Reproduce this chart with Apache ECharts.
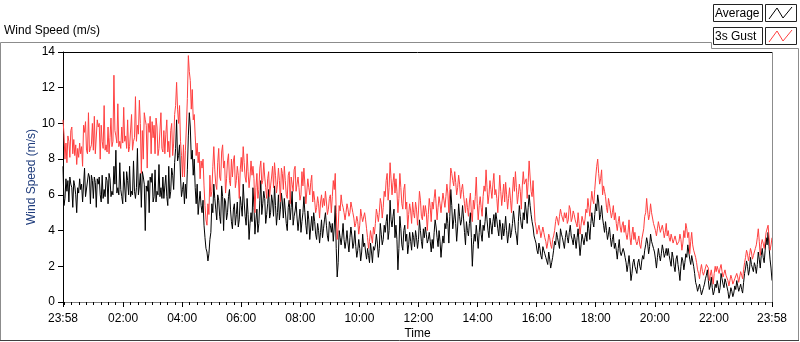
<!DOCTYPE html>
<html><head><meta charset="utf-8">
<script src="https://cdn.jsdelivr.net/npm/echarts@6/dist/echarts.min.js"></script>
<style>html,body{margin:0;padding:0;background:#fff}#c{width:800px;height:342px}</style>
</head><body><div id="c"></div>
<script>
// x axis: minutes after 23:58 (start of the 24 h window)
const xTickMinutes = [0, 122, 242, 362, 482, 602, 722, 842, 962, 1082, 1202, 1322, 1440];
const xTickLabels = ['23:58', '02:00', '04:00', '06:00', '08:00', '10:00', '12:00', '14:00', '16:00', '18:00', '20:00', '22:00', '23:58'];
const yTicks = [0, 2, 4, 6, 8, 10, 12, 14];
const seriesNames = ['Average', '3s Gust'];

// samples about every 2 minutes over the day
const average = [
7.6,5.4,5.8,6.9,6.2,6.8,5.6,7.0,6.6,6.4,5.3,6.8,6.5,6.0,5.0,6.4,6.1,6.9,6.3,6.6,5.6,5.7,7.5,5.9,6.0,5.8,7.2,7.0,5.5,7.1,6.8,5.8,7.0,6.7,5.3,6.9,6.6,7.0,6.0,5.6,7.1,5.8,6.3,5.9,7.0,6.8,5.5,7.2,6.9,5.9,6.2,6.0,7.6,6.6,8.5,6.1,6.4,6.0,7.8,6.3,5.9,5.5,7.3,7.4,5.6,7.3,6.8,6.0,7.6,5.9,6.2,6.0,7.9,6.2,5.8,6.4,8.6,6.0,6.5,7.2,5.3,7.3,7.0,6.6,4.0,6.5,6.2,6.8,5.0,7.0,6.7,7.2,5.6,5.9,7.4,5.6,6.2,6.0,7.7,5.9,6.4,5.8,7.0,5.8,
6.5,7.1,5.9,5.4,7.6,5.8,6.2,7.5,7.1,6.3,7.8,8.6,10.2,7.9,8.2,8.8,7.0,5.9,6.3,6.7,5.5,6.6,5.8,7.4,9.3,10.6,9.8,8.0,8.5,7.1,8.0,6.4,5.5,6.6,4.9,5.6,6.2,5.4,5.0,5.7,4.3,3.6,3.0,2.8,2.3,2.7,3.5,3.9,5.5,5.0,6.6,5.8,5.2,4.6,6.0,5.7,4.8,4.4,6.5,5.9,4.0,5.8,5.6,4.6,5.0,5.9,6.3,5.2,4.5,4.1,5.2,5.5,4.3,4.9,5.6,4.2,4.6,5.9,5.4,4.8,6.6,5.6,4.8,4.3,5.8,4.9,3.5,4.4,5.0,4.5,6.4,5.3,3.8,4.6,5.2,3.9,4.4,5.7,6.8,4.9,5.5,6.2,
5.8,4.4,4.9,5.5,6.3,4.7,5.0,6.0,5.6,4.8,6.5,5.4,4.3,5.0,6.0,4.6,5.2,6.1,5.6,4.7,5.8,5.1,4.4,4.0,5.3,5.7,4.6,5.3,6.2,4.3,4.8,5.1,5.6,4.7,4.0,4.6,5.2,3.9,4.5,5.0,5.9,5.0,4.3,3.8,5.1,4.6,3.5,4.2,4.8,4.0,5.0,4.5,3.8,3.5,4.4,4.0,3.3,3.9,4.6,3.6,4.1,4.6,5.0,4.3,3.7,3.4,4.5,4.3,3.9,4.4,3.4,4.2,5.4,3.0,1.4,2.2,4.0,3.6,3.2,3.7,4.4,3.5,3.0,3.4,4.0,3.3,2.8,3.6,4.2,3.7,3.0,3.3,4.0,3.1,2.5,2.9,3.5,3.0,2.3,2.8,3.8,3.1,3.3,2.8,
2.4,3.0,2.6,2.2,3.3,2.8,2.2,3.1,2.9,3.2,3.8,3.3,2.5,3.0,4.4,3.8,3.2,3.5,4.3,3.9,4.5,4.9,3.5,4.0,5.7,4.6,4.2,4.8,5.2,3.6,4.3,3.5,1.8,3.0,4.8,4.1,3.2,2.9,4.0,4.3,3.4,3.8,2.7,3.2,3.9,3.4,2.9,3.9,3.6,3.1,4.0,3.6,3.0,3.5,4.6,4.0,3.4,3.0,4.1,3.6,4.2,3.8,3.3,3.5,3.9,3.4,2.8,3.5,3.0,3.9,4.6,4.2,3.6,3.1,4.0,3.4,2.5,3.2,3.7,3.3,4.4,4.1,5.0,4.4,3.3,4.8,6.3,5.4,4.1,4.6,5.2,4.4,3.4,4.2,5.5,4.8,4.3,4.6,5.4,4.7,3.9,3.2,
4.5,4.0,3.7,4.4,5.0,3.6,2.0,3.2,3.8,3.4,4.3,3.7,3.0,3.9,4.6,3.8,3.4,4.3,4.0,4.5,5.3,4.6,4.0,3.6,4.7,4.3,3.8,4.5,4.9,4.2,5.0,4.6,4.1,3.7,4.6,4.2,3.5,4.4,3.7,4.1,4.8,4.0,3.3,3.8,4.4,3.6,3.9,4.4,5.1,4.6,4.0,3.7,3.2,4.5,5.4,4.8,4.3,4.1,5.0,4.6,5.6,5.1,4.4,5.3,6.0,5.4,4.9,4.5,4.2,3.7,3.5,3.3,2.9,2.7,3.3,3.0,2.6,2.4,3.1,2.9,2.7,2.5,2.3,2.1,2.8,2.4,1.9,2.2,2.5,2.9,3.4,3.2,3.9,3.6,3.3,3.0,4.1,3.8,3.6,3.3,3.0,3.6,
4.0,3.6,3.3,3.9,4.3,3.7,3.5,3.2,3.8,3.5,3.0,3.6,4.1,3.3,2.6,3.2,3.8,3.5,3.2,3.6,3.9,3.4,4.5,4.1,3.5,4.4,5.0,4.5,4.2,4.9,5.5,5.1,6.0,5.6,4.6,4.9,5.4,4.7,4.3,3.9,4.5,4.0,3.5,3.8,4.2,3.6,3.1,3.5,3.8,3.0,3.3,2.9,2.4,3.0,3.5,2.8,2.6,2.5,3.0,2.8,2.5,2.2,1.7,2.1,2.6,2.0,1.2,1.6,2.2,2.4,2.0,1.8,1.6,2.2,2.4,2.0,1.8,2.3,2.6,2.4,2.9,3.2,3.6,3.3,2.7,3.1,3.8,3.4,3.2,3.0,2.8,2.4,1.9,2.5,3.0,2.6,2.3,2.7,3.2,2.9,2.5,2.7,3.0,2.6,
3.0,2.6,2.3,2.0,2.8,2.5,2.0,1.7,2.4,2.6,2.1,1.7,1.2,2.0,2.5,2.3,1.8,2.2,2.7,2.5,3.2,2.8,2.4,2.1,2.6,2.3,2.0,1.6,1.1,0.9,0.6,0.8,1.0,0.7,0.4,0.5,0.8,1.0,1.3,1.5,1.8,1.2,0.7,0.9,1.4,0.8,0.4,0.6,1.0,0.8,1.2,0.9,0.5,0.8,1.6,1.3,1.0,0.8,1.3,1.1,1.0,0.6,0.2,0.4,0.8,0.6,0.3,0.5,0.9,0.7,1.2,0.9,0.6,0.8,1.0,0.7,0.5,1.1,1.6,1.9,2.3,2.0,1.5,1.8,2.5,2.1,1.9,1.7,2.2,2.0,1.6,2.1,2.8,2.4,1.9,2.6,3.0,2.5,2.2,2.9,3.6,3.2,3.9,3.1,2.4,1.9,1.2
];

const gust3s = [
10.2,9.4,8.0,8.9,7.8,9.3,9.0,8.1,9.6,9.8,8.3,9.1,8.2,8.8,7.7,8.6,8.1,8.9,8.3,8.7,7.6,9.9,9.5,10.1,8.5,8.3,10.6,8.4,8.6,8.8,10.0,8.5,10.4,8.3,8.2,10.2,9.8,10.0,8.0,9.9,9.0,8.6,11.0,8.5,8.8,8.4,9.8,8.3,9.2,10.3,8.7,9.0,12.7,9.6,9.3,8.9,11.1,8.7,9.0,8.6,9.8,8.9,10.9,9.0,9.3,8.6,10.2,8.4,8.7,8.6,10.5,8.5,9.0,9.2,11.5,9.0,9.9,9.4,11.3,10.0,7.2,9.6,8.0,10.6,10.2,9.9,7.5,10.0,9.5,10.4,8.3,10.1,9.2,9.9,8.3,10.3,9.8,8.2,8.6,8.7,10.6,8.6,8.4,9.6,
8.3,9.4,10.2,8.4,9.0,8.1,9.6,10.0,8.2,8.9,10.5,11.0,12.3,10.8,10.0,11.0,9.0,8.2,7.0,8.8,7.0,8.5,9.8,11.4,13.8,12.9,12.4,10.8,11.9,10.2,10.5,9.3,8.2,8.9,7.8,8.4,6.9,7.9,7.5,8.0,6.5,5.4,4.6,4.3,5.5,4.9,7.1,5.9,6.2,7.6,8.7,7.4,6.6,6.3,7.8,8.6,7.0,6.8,8.4,8.8,7.5,7.9,6.1,6.9,7.9,8.3,6.8,6.5,8.0,7.0,7.9,8.2,6.4,6.8,7.6,7.1,5.8,7.4,8.1,7.3,8.7,7.8,7.0,6.7,8.3,7.3,6.4,7.0,7.9,7.1,7.6,6.9,5.0,6.4,7.2,5.8,6.3,7.5,7.9,6.6,6.8,7.8,
7.0,6.4,5.8,6.9,7.3,5.9,6.5,7.0,7.6,6.4,7.8,7.1,6.1,6.6,7.5,6.8,5.6,7.5,7.2,6.3,7.6,6.8,6.0,5.8,7.1,7.3,5.5,7.0,6.6,6.2,7.4,7.6,6.2,6.6,7.0,6.4,5.7,6.0,7.3,6.5,7.5,6.6,5.5,5.6,6.9,6.4,6.0,6.7,7.1,5.6,6.2,5.7,5.0,5.3,5.9,5.5,4.7,5.6,6.0,5.3,5.8,5.4,6.2,5.6,4.9,5.2,5.8,6.0,5.0,5.9,6.8,6.3,7.2,5.0,3.5,4.2,5.4,5.1,6.0,5.5,5.3,5.0,4.6,5.0,5.5,5.2,4.8,5.0,5.6,5.3,5.0,4.7,4.2,4.4,4.8,4.5,3.8,4.3,5.2,4.8,4.5,4.4,5.0,4.6,
4.1,3.6,3.0,3.4,4.0,3.9,3.3,4.2,3.8,4.4,5.2,4.9,4.5,5.0,5.8,5.5,4.7,5.3,6.2,5.9,6.8,7.2,5.7,6.4,7.8,6.9,6.0,6.7,7.2,6.1,6.9,6.2,5.0,5.8,7.2,6.4,5.5,5.2,6.3,6.6,5.2,5.6,4.1,4.9,5.5,5.1,4.4,5.6,5.0,4.7,5.6,5.2,4.3,5.1,6.2,5.7,4.8,4.6,5.4,4.8,5.4,5.0,4.0,4.9,5.8,5.3,4.5,5.6,5.2,5.8,6.3,5.5,4.6,5.3,5.9,5.5,5.0,5.6,6.1,5.7,5.3,5.9,6.6,6.1,5.0,6.3,7.5,7.2,6.8,6.5,7.3,6.7,6.0,6.4,7.1,6.6,5.8,6.3,6.6,6.0,5.5,5.0,
5.8,5.3,4.8,5.6,6.1,5.0,4.5,5.7,5.2,5.9,7.0,5.5,4.6,5.4,5.9,5.3,4.8,5.9,6.5,6.2,7.4,6.4,5.5,6.0,6.8,6.3,5.8,6.6,7.2,6.0,6.3,5.8,5.0,6.0,7.1,6.2,5.4,6.0,6.6,5.6,6.7,6.0,5.2,5.8,6.4,5.7,5.0,6.1,7.0,6.2,7.3,6.4,5.5,6.0,6.6,6.2,5.2,6.5,7.3,6.6,6.5,6.9,5.8,6.7,7.9,7.0,6.2,5.9,6.8,5.6,4.5,4.2,3.8,3.9,4.3,4.0,3.6,3.5,4.2,3.9,3.6,3.4,3.0,3.3,3.8,3.6,3.2,3.0,3.5,3.7,4.0,4.5,4.8,4.6,4.3,4.8,5.2,4.9,4.7,4.5,5.0,4.7,
5.0,4.4,4.6,5.4,5.2,4.5,4.7,5.1,4.9,4.6,4.4,4.2,5.0,4.4,3.8,4.3,4.8,4.9,4.3,4.6,5.2,5.0,5.8,5.3,4.8,5.6,6.2,5.7,5.5,6.3,7.0,7.6,8.0,7.2,6.6,6.9,7.4,6.0,6.5,6.2,5.9,5.3,5.0,5.8,5.5,5.1,4.7,5.0,5.4,4.6,5.0,4.4,4.0,4.5,4.8,4.2,3.9,4.3,4.5,3.9,4.3,3.8,3.5,3.9,4.6,3.6,3.2,3.8,4.2,3.5,3.9,3.4,3.2,3.4,3.7,3.2,3.0,3.5,3.6,4.1,4.8,5.0,5.8,5.1,4.6,4.9,5.5,5.0,4.9,4.4,4.2,4.0,3.7,4.1,4.5,4.2,3.9,4.0,4.3,4.0,3.6,3.9,4.4,3.7,
4.0,3.6,3.4,3.8,3.9,3.3,3.5,3.7,3.6,3.2,3.1,3.4,3.8,3.5,2.9,3.3,4.0,3.6,4.4,4.1,3.6,3.9,2.7,3.4,3.9,3.2,2.9,2.8,2.5,2.2,1.8,1.6,1.3,1.8,2.1,1.7,1.5,1.6,1.9,2.1,2.2,1.9,1.2,1.5,1.8,1.4,1.0,1.6,2.0,1.7,2.0,1.8,1.6,1.9,2.1,1.7,1.4,1.6,1.8,1.5,1.4,1.2,0.9,1.2,1.5,1.3,1.0,1.1,1.3,1.4,1.6,1.4,1.1,1.4,1.7,1.5,1.3,1.8,2.2,2.5,2.9,2.7,2.3,2.6,3.0,2.8,2.4,2.6,2.8,3.0,3.2,3.6,4.1,3.4,2.6,3.2,3.5,3.3,3.0,3.4,3.9,4.0,4.3,3.6,2.9,3.2,3.6
];

const SPAN = 1440;
function toPairs(arr) {
  const step = SPAN / (arr.length - 1);
  return arr.map((v, i) => [i * step, v]);
}
const minorTicks = [0];
for (let m = 2; m < SPAN; m += 15) minorTicks.push(m);
minorTicks.push(SPAN);

const G = { left: 63, top: 52, right: 772, bottom: 302 };
const FONT = 'Liberation Sans';
const chart = echarts.init(document.getElementById('c'), null, { renderer: 'canvas' });

function legendItem(y, label, color) {
  return [
    { type: 'rect', shape: { x: 713.5, y: y + 0.5, width: 49, height: 17 }, style: { fill: '#fff', stroke: '#222', lineWidth: 1 } },
    { type: 'text', x: 715, y: y + 9.5, style: { text: label, fill: '#000', font: '12px ' + FONT, verticalAlign: 'middle', align: 'left' } },
    { type: 'rect', shape: { x: 765.5, y: y + 0.5, width: 31, height: 17 }, style: { fill: '#fff', stroke: '#222', lineWidth: 1 } },
    { type: 'polyline', shape: { points: [[769, y + 15], [777, y + 4], [783, y + 14], [792, y + 3]] }, style: { stroke: color, lineWidth: 1, fill: null } }
  ];
}

chart.setOption({
  animation: false,
  backgroundColor: '#fff',
  grid: { left: G.left, top: G.top, width: G.right - G.left, height: G.bottom - G.top, containLabel: false, outerBoundsMode: 'none' },
  xAxis: [{
    type: 'value', min: 0, max: SPAN,
    name: 'Time', nameLocation: 'middle', nameGap: 26, nameMoveOverlap: false,
    nameTextStyle: { color: '#000', fontSize: 12, fontFamily: FONT },
    axisLine: { show: true, lineStyle: { color: '#808080', width: 1 } },
    axisTick: { show: true, customValues: xTickMinutes, length: 5, lineStyle: { color: '#000' } },
    axisLabel: { show: true, customValues: xTickMinutes, margin: 11, color: '#000', fontSize: 12, fontFamily: FONT,
      formatter: v => { const i = xTickMinutes.indexOf(Math.round(v)); return i >= 0 ? xTickLabels[i] : ''; } },
    splitLine: { show: false }
  }, {
    type: 'value', min: 0, max: SPAN, position: 'bottom',
    axisLine: { show: false },
    axisTick: { show: true, customValues: minorTicks, length: 3, lineStyle: { color: '#000' } },
    axisLabel: { show: false },
    splitLine: { show: false }
  }],
  yAxis: {
    type: 'value', min: 0, max: 14, interval: 2,
    name: 'Wind Speed (m/s)', nameLocation: 'middle', nameGap: 25, nameMoveOverlap: false,
    nameTextStyle: { color: '#1f3c7c', fontSize: 12, fontFamily: FONT },
    axisLine: { show: true, lineStyle: { color: '#000', width: 1 } },
    axisTick: { show: true, length: 5, lineStyle: { color: '#000' } },
    axisLabel: { margin: 8, color: '#000', fontSize: 12, fontFamily: FONT, formatter: v => yTicks.includes(v) ? String(v) : '' },
    splitLine: { show: false }
  },
  series: [
    { name: seriesNames[0], type: 'line', data: toPairs(average), showSymbol: false, symbol: 'none',
      lineStyle: { color: '#000', width: 1 }, itemStyle: { color: '#000' }, z: 2 },
    { name: seriesNames[1], type: 'line', data: toPairs(gust3s), showSymbol: false, symbol: 'none',
      lineStyle: { color: '#ff4040', width: 1 }, itemStyle: { color: '#ff4040' }, z: 3 }
  ],
  graphic: [
    { type: 'polyline', shape: { points: [[0.5, 341], [0.5, 42.5], [711.5, 42.5], [711.5, 48.5], [798.5, 48.5], [798.5, 341]] },
      style: { stroke: '#8c8c8c', lineWidth: 1, fill: null }, silent: true },
    { type: 'line', shape: { x1: 0, y1: 340.5, x2: 799, y2: 340.5 }, style: { stroke: '#404040', lineWidth: 1 } },
    { type: 'text', x: 4, y: 31, style: { text: 'Wind Speed (m/s)', fill: '#000', font: '12px ' + FONT, verticalAlign: 'middle' } },
    { type: 'line', shape: { x1: G.left, y1: G.top + 0.5, x2: G.right, y2: G.top + 0.5 }, style: { stroke: '#000', lineWidth: 1 }, z: 10 },
    { type: 'line', shape: { x1: G.right + 0.5, y1: G.top, x2: G.right + 0.5, y2: G.bottom }, style: { stroke: '#8c8c8c', lineWidth: 1 }, z: 10 },
    ...legendItem(4, seriesNames[0], '#000'),
    ...legendItem(27, seriesNames[1], '#ff4040')
  ]
});
</script></body></html>
